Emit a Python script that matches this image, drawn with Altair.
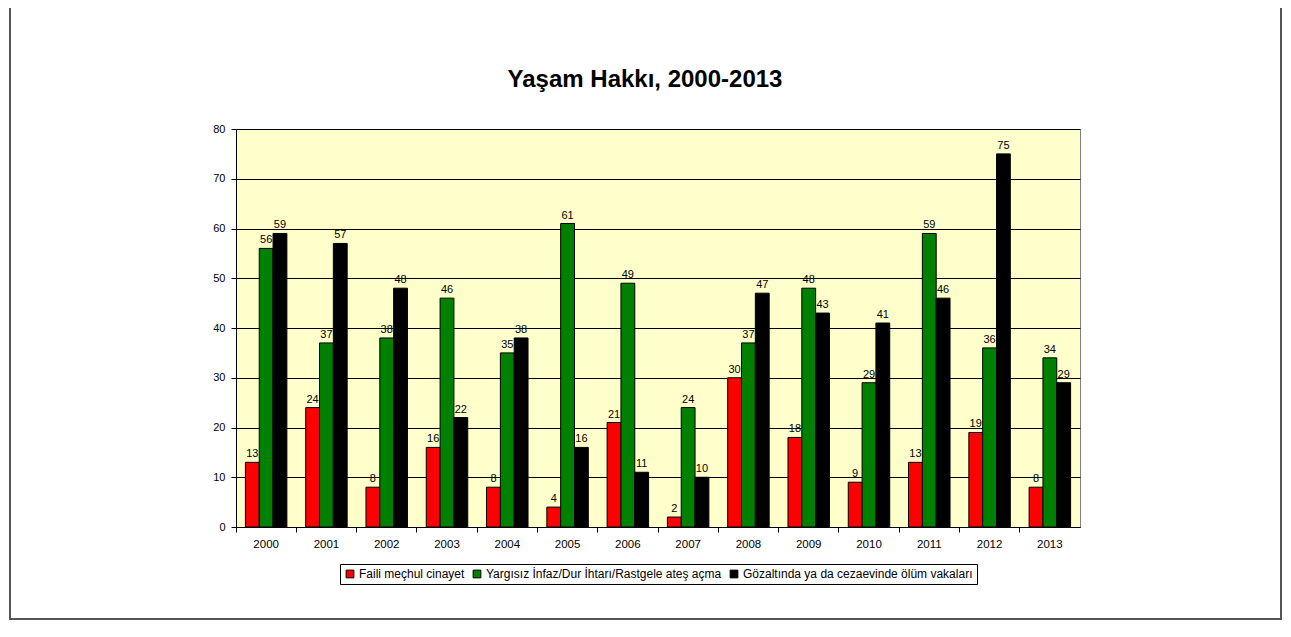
import altair as alt
import pandas as pd

TITLE = "Yaşam Hakkı, 2000-2013"
years = [str(y) for y in range(2000, 2014)]
series = [
    "Faili meçhul cinayet",
    "Yargısız İnfaz/Dur İhtarı/Rastgele ateş açma",
    "Gözaltında ya da cezaevinde ölüm vakaları",
]
faili = [13, 24, 8, 16, 8, 4, 21, 2, 30, 18, 9, 13, 19, 8]
yargisiz = [56, 37, 38, 46, 35, 61, 49, 24, 37, 48, 29, 59, 36, 34]
gozalti = [59, 57, 48, 22, 38, 16, 11, 10, 47, 43, 41, 46, 75, 29]
colors = ["#FF0000", "#008000", "#000000"]
y_ticks = [0, 10, 20, 30, 40, 50, 60, 70, 80]

rows = []
for i, yr in enumerate(years):
    for s, vals in zip(series, [faili, yargisiz, gozalti]):
        rows.append({"year": yr, "series": s, "value": vals[i]})
df = pd.DataFrame(rows)

FONT = "Liberation Sans"
W, H = 844, 398

x_enc = alt.X("year:N", sort=years,
              scale=alt.Scale(paddingInner=0, paddingOuter=0),
              axis=alt.Axis(title=None, orient="bottom", labelAngle=0, ticks=False,
                            domain=True, domainColor="black", labelFont=FONT,
                            labelFontSize=11.5, labelColor="#000000", labelPadding=11))
xo_enc = alt.XOffset("series:N", sort=series,
                     scale=alt.Scale(paddingInner=0, paddingOuter=0.68))
y_axis = alt.Axis(title=None, values=y_ticks, grid=True, gridColor="black",
                  gridOpacity=1, gridWidth=1, domainColor="black",
                  tickColor="black", tickSize=5, labelFont=FONT,
                  labelFontSize=11, labelColor="#000000", labelPadding=6)
y_enc = alt.Y("value:Q", scale=alt.Scale(domain=[0, 80], nice=False), axis=y_axis)

color_enc = alt.Color("series:N", sort=series,
                      scale=alt.Scale(domain=series, range=colors),
                      legend=alt.Legend(title=None, orient="none", legendX=104, legendY=435,
                                        direction="horizontal", strokeColor="black",
                                        fillColor="white", padding=4, labelFont=FONT,
                                        labelFontSize=12, labelColor="black", labelLimit=0,
                                        symbolType="square", symbolSize=60,
                                        symbolStrokeColor="black", symbolStrokeWidth=1,
                                        symbolOpacity=1, columnPadding=6, labelOffset=3))

base = alt.Chart(df)

bars = base.mark_bar(stroke="black", strokeWidth=1).encode(
    x=x_enc, xOffset=xo_enc, y=y_enc, color=color_enc
)

labels = base.mark_text(dy=-8, font=FONT, fontSize=11, color="black").encode(
    x=alt.X("year:N", sort=years, axis=None), xOffset=xo_enc,
    y=alt.Y("value:Q", axis=y_axis), text="value:Q"
)

ticks = base.mark_bar(opacity=0).encode(
    x=alt.X("year:N", sort=years,
            axis=alt.Axis(title=None, orient="bottom", labels=False, ticks=True,
                          bandPosition=0, tickColor="black", tickSize=5,
                          domain=False, grid=False)),
    y=alt.Y("value:Q", axis=y_axis),
)

frame = alt.Chart(pd.DataFrame({"f": [0]})).mark_rect(
    fill="transparent", stroke="#555555", strokeWidth=2
).encode(
    x=alt.value(-226), x2=alt.value(1045), y=alt.value(-140), y2=alt.value(490)
)

title = alt.Chart(pd.DataFrame({"t": [TITLE]})).mark_text(
    font=FONT, fontSize=24, fontWeight="bold", color="black",
    align="center", baseline="alphabetic"
).encode(
    text="t:N", x=alt.value(W / 2 - 13), y=alt.value(-42)
)

chart = alt.layer(frame, bars, labels, ticks, title).resolve_axis(x="independent").properties(
    width=W, height=H,
    padding={"left": 228, "top": 121, "right": 203, "bottom": 94},
    autosize=alt.AutoSizeParams(type="none"),
    background="white",
).configure_view(
    fill="#FFFFCC", stroke="#808080", strokeWidth=1
)

chart.save("out.html", embed_options={"renderer": "svg", "actions": False})
